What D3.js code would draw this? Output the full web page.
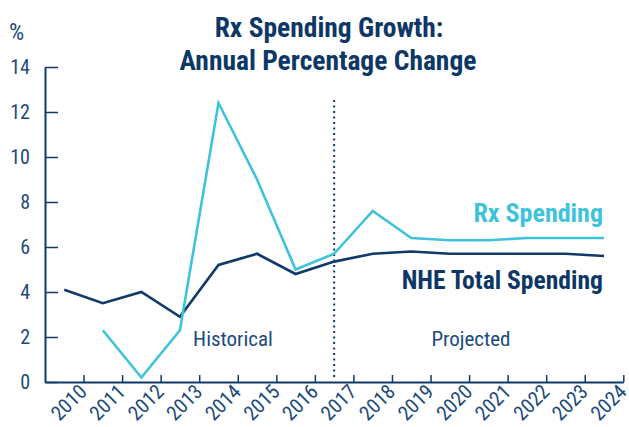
<!DOCTYPE html>
<html><head><meta charset="utf-8">
<script src="https://cdn.jsdelivr.net/npm/d3@7"></script>
<style>
body{margin:0;background:#fff;}
svg{display:block;}
text{font-family:"Roboto Condensed","Roboto",sans-serif;}
</style></head><body>
<svg id="c" width="629" height="427"></svg>
<script>
const years = [2010,2011,2012,2013,2014,2015,2016,2017,2018,2019,2020,2021,2022,2023,2024];
const nheTotal = [4.1,3.5,4.0,2.9,5.2,5.7,4.8,5.35,5.7,5.8,5.7,5.7,5.7,5.7,5.6];
const rxSpending = [null,2.3,0.2,2.3,12.4,9.0,5.0,5.7,7.6,6.4,6.3,6.3,6.4,6.4,6.4];
const yTicks = [0,2,4,6,8,10,12,14];
const titleLines = ["Rx Spending Growth:","Annual Percentage Change"];
const projectionStart = 2017;

const navy = "#0f3a6a", cyan = "#3ec3da", textNavy = "#1c4a7c";
const svg = d3.select("#c");
const x = d3.scaleLinear().domain([0, years.length]).range([45, 623.3]);
const y = d3.scaleLinear().domain([0, 14]).range([382, 67]);
const xc = i => x(i + 0.5);

// title
svg.append("text").attr("x", 329).attr("y", 36.5).attr("text-anchor","middle")
  .attr("font-size", 27.5).attr("font-weight","bold").attr("fill", "#0d3766").text(titleLines[0]);
svg.append("text").attr("x", 328).attr("y", 70).attr("text-anchor","middle")
  .attr("font-size", 27.5).attr("font-weight","bold").attr("fill", "#0d3766").text(titleLines[1]);
svg.append("text").attr("x", 9).attr("y", 40).attr("font-size", 24).attr("fill", textNavy).text("%");

// y axis
const ya = svg.append("g").attr("transform","translate(45,0)")
  .call(d3.axisLeft(y).tickValues(yTicks).tickSizeInner(-13).tickSizeOuter(0).tickPadding(15));
ya.select(".domain").attr("stroke", navy).attr("stroke-width", 2);
ya.selectAll(".tick line").attr("stroke", navy).attr("stroke-width", 1.5);
ya.selectAll(".tick text").attr("font-size", 20).attr("fill", textNavy);

// x axis
const xa = svg.append("g").attr("transform","translate(0,382)")
  .call(d3.axisBottom(x).tickValues(d3.range(1, years.length + 1)).tickFormat(i => years[i-1])
    .tickSizeInner(-7).tickSizeOuter(0));
xa.select(".domain").attr("stroke", navy).attr("stroke-width", 2);
xa.selectAll(".tick line").attr("stroke", navy).attr("stroke-width", 1.5);
xa.selectAll(".tick text").attr("font-size", 20.5).attr("fill", textNavy)
  .attr("text-anchor","end").attr("dy", null).attr("y", 0)
  .attr("transform","translate(4,11) rotate(-45)");

// divider
const pi = years.indexOf(projectionStart);
svg.append("line").attr("x1", xc(pi)).attr("x2", xc(pi)).attr("y1", 100).attr("y2", 377)
  .attr("stroke", navy).attr("stroke-width", 2).attr("stroke-dasharray", "2,3.5");

// lines
const line = d3.line().defined(d => d != null).x((d,i) => xc(i)).y(d => y(d));
svg.append("path").datum(nheTotal).attr("d", line).attr("fill","none")
  .attr("stroke", navy).attr("stroke-width", 2.6).attr("stroke-linejoin","miter");
svg.append("path").datum(rxSpending).attr("d", line).attr("fill","none")
  .attr("stroke", cyan).attr("stroke-width", 2.6).attr("stroke-linejoin","miter");

// labels
svg.append("text").attr("x", 603).attr("y", 221.5).attr("text-anchor","end")
  .attr("font-size", 26).attr("font-weight","bold").attr("fill", cyan).text("Rx Spending");
svg.append("text").attr("x", 603).attr("y", 289).attr("text-anchor","end")
  .attr("font-size", 25.6).attr("font-weight","bold").attr("fill", "#0d3766").text("NHE Total Spending");
svg.append("text").attr("x", 233).attr("y", 345.5).attr("text-anchor","middle")
  .attr("font-size", 21).attr("fill", textNavy).text("Historical");
svg.append("text").attr("x", 471).attr("y", 345.5).attr("text-anchor","middle")
  .attr("font-size", 21).attr("fill", textNavy).text("Projected");
</script></body></html>
